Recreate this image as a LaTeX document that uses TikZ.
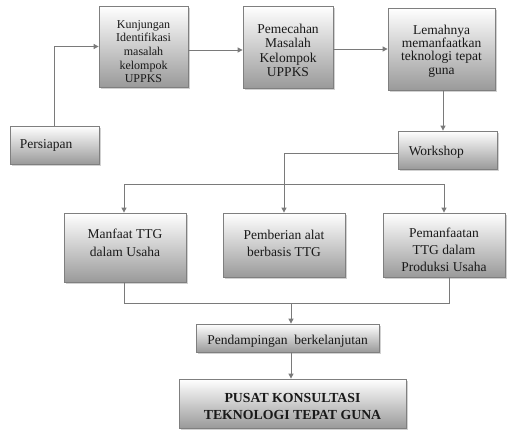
\documentclass[tikz,border=0pt]{standalone}
\usepackage{fontspec}
\setmainfont{Liberation Serif}
\usetikzlibrary{arrows.meta,shadows}
\definecolor{linegray}{HTML}{7A7A7A}
\definecolor{boxedge}{HTML}{7F7F7F}
\definecolor{boxbottom}{HTML}{9A9A9A}
\tikzset{
  box/.style={draw=boxedge, line width=0.8pt, top color=white, bottom color=boxbottom,
    inner sep=0pt,
    drop shadow={shadow xshift=2pt, shadow yshift=-2pt, fill=black, opacity=0.18}},
  txt/.style={inner sep=0pt, align=center, text=black!90},
  conn/.style={draw=linegray, line width=0.9pt},
  arr/.style={conn, -{Triangle[width=5pt,length=5pt]}},
}
\begin{document}
\begin{tikzpicture}[x=1pt,y=-1pt]
\useasboundingbox (0,0) rectangle (508,429);
% boxes
\node[box, minimum width=89pt, minimum height=38pt] (pers) at (54.5,145) {};
\node[txt, anchor=west, font=\fontsize{13.5}{16}\selectfont] (persT) at ([xshift=10pt]pers.west) {Persiapan};
\node[box, minimum width=89pt, minimum height=81pt] (kun) at (143.5,46.5) {};
\node[txt, font=\fontsize{12}{13.7}\selectfont] (kunT) at ([yshift=-5pt]kun.center)
  {Kunjungan\\Identifikasi\\masalah\\kelompok\\UPPKS};
\node[box, minimum width=90pt, minimum height=82pt] (pem) at (288,47) {};
\node[txt, font=\fontsize{13.5}{14.5}\selectfont] (pemT) at ([yshift=-3.5pt]pem.center)
  {Pemecahan\\Masalah\\Kelompok\\UPPKS};
\node[box, minimum width=107pt, minimum height=82pt] (lem) at (441.5,49) {};
\node[txt, font=\fontsize{13.5}{13.4}\selectfont] (lemT) at ([yshift=-2pt]lem.center)
  {Lemahnya\\memanfaatkan\\teknologi tepat\\guna};
\node[box, minimum width=99pt, minimum height=38pt] (wk) at (447.5,150) {};
\node[txt, anchor=west, font=\fontsize{13.5}{16}\selectfont] (wkT) at ([xshift=11pt,yshift=-2pt]wk.west) {Workshop};
\node[box, minimum width=122pt, minimum height=69pt] (manf) at (125,247.5) {};
\node[txt, font=\fontsize{13.5}{18}\selectfont] (manfT) at ([yshift=5pt]manf.center)
  {Manfaat TTG\\dalam Usaha};
\node[box, minimum width=122pt, minimum height=64pt] (pemb) at (284,245) {};
\node[txt, font=\fontsize{13.5}{16.7}\selectfont] (pembT) at ([yshift=1.5pt]pemb.center)
  {Pemberian alat\\berbasis TTG};
\node[box, minimum width=122pt, minimum height=64pt] (pemf) at (444,245) {};
\node[txt, font=\fontsize{13.5}{16.7}\selectfont] (pemfT) at ([yshift=-5pt]pemf.center)
  {Pemanfaatan\\TTG dalam\\Produksi Usaha};
\node[box, minimum width=183pt, minimum height=28pt] (pend) at (287.5,338) {};
\node[txt, font=\fontsize{13.5}{16}\selectfont] (pendT) at ([yshift=-3pt]pend.center)
  {Pendampingan~~berkelanjutan};
\node[box, minimum width=227pt, minimum height=49pt] (pusat) at (292.5,403.5) {};
\node[txt, font=\fontsize{13.8}{17}\selectfont\bfseries] (pusatT) at ([yshift=-3pt]pusat.center)
  {PUSAT KONSULTASI\\TEKNOLOGI TEPAT GUNA};
% helper coordinates
\coordinate (hub) at (284,184);
\coordinate (join) at (291,303);
% connectors
\draw[arr] (pers.north) |- (kun.west);
\draw[arr] ([yshift=-3.5pt]kun.east) -- ([yshift=-3.5pt]kun.east -| pem.west);
\draw[arr] (pem.east |- lem.west) -- (lem.west);
\draw[arr] ([xshift=1.5pt]lem.south) -- ([xshift=1.5pt]lem.south |- wk.north);
\draw[conn] ([yshift=-3pt]wk.west) -| (hub);
\draw[arr] (hub) -- (pemb.north);
\draw[arr] (hub) -| ([xshift=-1pt]manf.north);
\draw[arr] (hub) -| (pemf.north);
\draw[conn] ([xshift=-1pt]manf.south) |- (join);
\draw[conn] ([xshift=5pt]pemf.south) |- (join);
\draw[arr] (join) -- (join |- pend.north);
\draw[arr] (pend.south -| join) -- (pusat.north -| join);
\end{tikzpicture}
\end{document}
